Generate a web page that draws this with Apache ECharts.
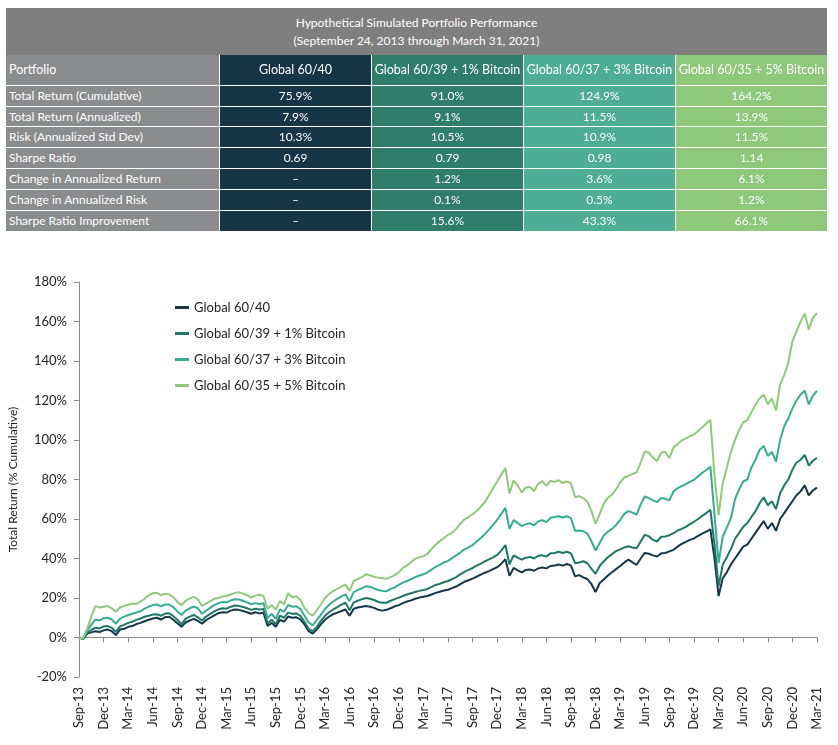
<!DOCTYPE html>
<html>
<head>
<meta charset="utf-8">
<script src="https://cdn.jsdelivr.net/npm/echarts@6/dist/echarts.min.js"></script>
<style>
  html, body { margin: 0; padding: 0; background: #fff; }
  #wrap { position: relative; width: 838px; height: 745px; overflow: hidden; font-family: Lato, "Noto Sans", sans-serif; }
  #chart { position: absolute; left: 0; top: 0; width: 838px; height: 745px; }
  .cell { position: absolute; box-sizing: border-box; color: #fff; font-size: 12px; line-height: 1; display: flex; align-items: center; white-space: nowrap; }
</style>
</head>
<body>
<div id="wrap">
  <div id="chart"></div>
  <div id="table"></div>
</div>
<script>
// ---------------- table data ----------------
const tableTitle = ['Hypothetical Simulated Portfolio Performance', '(September 24, 2013 through March 31, 2021)'];
const portfolios = ['Global 60/40', 'Global 60/39 + 1% Bitcoin', 'Global 60/37 + 3% Bitcoin', 'Global 60/35 + 5% Bitcoin'];
const metrics = ['Total Return (Cumulative)', 'Total Return (Annualized)', 'Risk (Annualized Std Dev)', 'Sharpe Ratio', 'Change in Annualized Return', 'Change in Annualized Risk', 'Sharpe Ratio Improvement'];
const colGlobal6040 = ['75.9%', '7.9%', '10.3%', '0.69', '–', '–', '–'];
const colBtc1 = ['91.0%', '9.1%', '10.5%', '0.79', '1.2%', '0.1%', '15.6%'];
const colBtc3 = ['124.9%', '11.5%', '10.9%', '0.98', '3.6%', '0.5%', '43.3%'];
const colBtc5 = ['164.2%', '13.9%', '11.5%', '1.14', '6.1%', '1.2%', '66.1%'];

// ---------------- chart data ----------------
const tickLabels = ['Sep-13','Dec-13','Mar-14','Jun-14','Sep-14','Dec-14','Mar-15','Jun-15','Sep-15','Dec-15','Mar-16','Jun-16','Sep-16','Dec-16','Mar-17','Jun-17','Sep-17','Dec-17','Mar-18','Jun-18','Sep-18','Dec-18','Mar-19','Jun-19','Sep-19','Dec-19','Mar-20','Jun-20','Sep-20','Dec-20','Mar-21'];

// months elapsed since Sep 24, 2013
const months = [0,0.5,1,1.5,2,2.5,3,3.5,4,4.5,5,5.5,6,6.5,7,7.5,8,8.5,9,9.5,10,10.5,11,11.5,12,12.5,13,13.5,14,14.5,15,15.5,16,16.5,17,17.5,18,18.5,19,19.5,20,20.5,21,21.5,22,22.5,23,23.5,24,24.5,25,25.5,26,26.5,27,27.5,28,28.5,29,29.5,30,30.5,31,31.5,32,32.5,33,33.5,34,34.5,35,35.5,36,36.5,37,37.5,38,38.5,39,39.5,40,40.5,41,41.5,42,42.5,43,43.5,44,44.5,45,45.5,46,46.5,47,47.5,48,48.5,49,49.5,50,50.5,51,51.5,52,52.5,53,53.5,54,54.5,55,55.5,56,56.5,57,57.5,58,58.5,59,59.5,60,60.5,61,61.5,62,62.5,63,63.5,64,64.5,65,65.5,66,66.5,67,67.5,68,68.5,69,69.5,70,70.5,71,71.5,72,72.5,73,73.5,74,74.5,75,75.5,76,76.5,77,77.5,78,78.5,79,79.5,80,80.5,81,81.5,82,82.5,83,83.5,84,84.5,85,85.5,86,86.5,87,87.5,88,88.5,89,89.5,90];

const g6040 = [0,-0.8,2.0,2.6,3.2,2.8,3.6,4.0,3.2,1.2,4.0,4.4,5.4,5.8,6.8,7.4,8.2,9.0,9.6,10.0,9.1,10.3,10.5,9.0,7.2,5.4,7.6,8.6,9.4,8.4,7.0,8.8,10.0,11.2,12.3,12.8,12.6,13.6,14.2,14.0,13.4,12.8,12.0,12.8,12.2,12.6,5.8,7.4,5.4,9.0,8.0,10.6,10.0,10.2,9.2,6.6,3.2,2.0,4.0,6.6,9.0,10.6,11.8,12.6,13.4,14.2,11.0,14.6,15.2,15.6,15.9,15.6,15.0,14.0,13.6,14.0,14.8,15.8,16.4,17.4,18.2,18.8,19.6,20.2,20.6,21.0,21.8,22.6,23.2,23.8,24.2,25.0,25.8,27.0,28.2,29.0,29.8,30.8,31.8,32.8,33.6,34.6,35.6,37.4,39.6,31.2,35.2,34.0,33.0,34.2,34.4,33.8,35.0,35.4,35.0,36.2,36.4,37.0,36.4,37.2,36.4,31.0,31.6,30.4,29.6,27.0,23.0,27.6,29.4,31.4,33.0,34.6,36.2,38.0,39.4,38.0,36.8,40.0,42.8,42.4,41.6,41.0,42.6,42.8,43.6,44.4,46.0,47.4,48.4,49.4,50.2,51.4,52.6,53.6,54.8,40.0,21.0,30.0,33.0,37.0,40.0,43.0,46.0,47.0,50.0,53.0,56.0,59.0,55.0,58.0,54.0,60.0,63.0,66.0,69.0,72.0,74.0,77.0,72.0,74.5,75.9];

const btc1 = [0,-0.6,2.5,3.8,4.9,4.6,5.6,5.8,4.9,2.8,5.6,6.4,7.4,8.0,8.9,9.6,10.5,11.0,11.6,11.8,11.0,12.1,12.3,10.8,9.0,6.6,9.4,10.6,11.4,10.2,8.6,10.6,12.0,13.2,14.2,14.8,14.6,15.6,16.2,16.0,15.4,14.8,14.0,14.6,14.2,14.4,7.2,9.0,6.8,11.0,10.0,12.6,12.0,12.2,11.0,8.0,4.4,3.2,5.4,8.4,11.0,12.8,14.2,15.4,16.6,17.6,13.8,17.8,18.6,19.4,20.0,19.6,19.0,18.0,17.6,17.6,18.6,19.4,20.2,21.0,21.8,22.4,23.0,23.6,24.0,24.6,25.6,26.6,27.2,28.0,28.6,29.6,30.6,32.0,33.2,34.2,35.2,36.4,37.4,38.6,39.6,40.6,41.8,44.0,46.8,37.0,41.6,40.4,39.4,40.4,40.8,40.0,41.4,41.6,41.0,42.6,42.8,43.4,42.8,43.4,42.6,37.6,38.0,38.6,37.6,34.8,32.2,36.2,38.6,40.6,42.2,43.8,44.6,45.6,46.2,45.6,45.2,48.6,52.0,51.2,49.4,48.6,51.0,51.2,51.8,52.8,54.2,55.0,56.0,57.4,58.6,60.0,61.6,63.0,64.6,47.0,26.0,36.8,40.6,44.8,50.0,53.0,56.0,58.0,61.0,64.0,68.0,71.0,67.0,69.0,65.0,73.0,77.0,80.0,85.0,88.6,90.0,92.5,87.0,89.5,91.0];

const btc3 = [0,-0.5,3.5,6.5,9.1,8.6,9.8,10.0,9.1,7.0,9.6,10.6,11.4,12.0,12.7,13.3,14.6,15.6,16.4,16.7,15.8,16.7,16.7,15.4,13.2,11.4,13.6,14.8,15.6,14.8,12.0,13.6,15.0,16.4,17.4,18.0,17.8,18.8,19.4,19.2,18.6,17.8,16.8,17.4,17.0,17.4,9.8,12.0,9.4,14.2,13.0,16.4,15.6,15.8,14.4,11.0,7.6,6.2,8.8,11.6,14.4,16.6,18.2,19.6,20.8,21.8,18.4,23.0,24.0,25.0,26.0,25.6,24.8,24.0,23.6,23.4,24.6,25.4,26.6,27.8,28.6,29.6,30.6,31.4,32.0,33.0,34.4,35.8,36.8,38.0,38.8,40.2,41.6,43.0,44.6,45.6,46.8,48.6,50.4,52.4,54.6,57.0,59.6,62.6,65.6,55.0,59.4,58.0,56.4,57.4,57.8,56.8,58.8,59.4,58.4,60.6,61.0,61.4,60.8,61.4,60.4,54.0,54.2,53.8,52.6,48.6,44.0,47.8,51.6,53.6,55.0,57.0,59.6,62.6,64.0,63.2,62.2,67.4,71.4,70.6,69.4,68.6,70.6,70.2,69.4,74.0,75.6,76.6,77.6,78.8,79.8,81.6,83.4,84.8,86.4,62.0,37.8,51.0,55.6,60.4,70.0,75.0,79.0,80.0,86.0,90.0,95.0,97.0,92.0,94.0,89.0,100.0,107.0,111.0,116.0,120.0,123.0,125.0,118.0,122.5,124.9];

const btc5 = [0,-0.5,4.5,10.5,15.9,15.2,15.6,15.9,14.8,13.0,15.2,16.0,16.6,17.2,17.0,18.2,19.6,21.4,22.4,22.6,21.5,22.1,21.8,20.4,18.0,16.4,18.6,19.8,20.6,19.4,16.0,17.2,18.4,19.6,20.0,20.8,21.0,21.8,22.6,22.9,22.2,21.4,20.2,21.2,21.6,21.0,14.6,16.4,14.2,18.4,16.8,22.4,20.4,20.9,19.0,15.0,12.4,11.0,13.8,16.7,20.0,22.0,23.6,24.6,25.8,26.8,23.6,28.6,29.6,30.6,32.0,31.4,30.8,30.2,30.0,29.8,30.6,31.6,33.0,35.2,36.4,38.2,39.8,40.6,41.2,42.4,44.8,47.0,48.8,50.4,52.0,53.0,55.0,57.6,59.8,61.0,62.4,64.2,66.2,68.6,72.0,75.6,79.0,82.6,85.8,73.0,79.6,77.0,73.4,76.0,76.2,74.2,77.8,79.2,76.8,79.4,78.8,79.6,78.2,79.0,78.0,71.0,71.6,70.6,68.6,64.0,57.6,62.6,67.8,70.8,72.4,75.0,78.6,81.0,81.8,82.8,83.6,88.6,94.2,93.6,91.0,89.4,93.6,94.0,90.8,96.4,97.8,99.8,100.8,102.0,102.8,104.6,106.4,108.4,110.2,82.0,62.0,78.0,86.0,94.0,100.0,105.0,109.0,110.0,114.0,118.0,121.0,123.0,118.0,121.0,115.0,128.0,133.0,139.0,150.0,155.0,160.0,164.0,156.0,162.0,164.2];

const seriesColors = ['#143847', '#1d7866', '#35ad92', '#90c97c'];
const columnColors = ['#163546', '#2f7d6b', '#4dae94', '#8dc87b'];

// ---------------- build table ----------------
(function buildTable() {
  const t = document.getElementById('table');
  const colX = [6, 220, 372, 524, 676, 827];
  const rowY = [55, 86, 107, 127, 148, 169, 190, 211, 231];
  function cell(x0, y0, x1, y1, bg, text, align, extra) {
    const d = document.createElement('div');
    d.className = 'cell';
    d.style.left = x0 + 'px';
    d.style.top = y0 + 'px';
    d.style.width = (x1 - x0 - 1) + 'px';
    d.style.height = (y1 - y0 - 1) + 'px';
    d.style.background = bg;
    d.style.justifyContent = align === 'left' ? 'flex-start' : 'center';
    if (align === 'left') d.style.paddingLeft = '3px';
    if (extra) Object.assign(d.style, extra);
    d.innerHTML = text;
    t.appendChild(d);
  }
  cell(6, 8, 828, 56, '#7f7f7f', tableTitle[0] + '<br>' + tableTitle[1], 'center', { textAlign: 'center', lineHeight: '18px', fontSize: '12px' });
  cell(colX[0], rowY[0], colX[1], rowY[1], '#8b8c8e', 'Portfolio', 'left', { fontSize: '12.5px' });
  portfolios.forEach((p, i) => cell(colX[i + 1], rowY[0], colX[i + 2] + (i === 3 ? 1 : 0), rowY[1], columnColors[i], p, 'center', { fontSize: '12.5px' }));
  const cols = [colGlobal6040, colBtc1, colBtc3, colBtc5];
  metrics.forEach((m, r) => {
    cell(colX[0], rowY[r + 1], colX[1], rowY[r + 2] + (r === 6 ? 1 : 0), '#8b8c8e', m, 'left');
    cols.forEach((c, i) => cell(colX[i + 1], rowY[r + 1], colX[i + 2] + (i === 3 ? 1 : 0), rowY[r + 2] + (r === 6 ? 1 : 0), columnColors[i], c[r], 'center'));
  });
})();

// ---------------- chart ----------------
const valueSets = [g6040, btc1, btc3, btc5];
const chart = echarts.init(document.getElementById('chart'), null, { renderer: 'canvas' });
const font = 'Lato, "Noto Sans", sans-serif';
chart.setOption({
  animation: false,
  backgroundColor: '#fff',
  textStyle: { fontFamily: font },
  grid: { left: 79, right: 21, top: 282, bottom: 68, containLabel: false, outerBoundsMode: 'none' },
  legend: {
    orient: 'vertical',
    left: 170,
    top: 296,
    itemWidth: 14,
    itemHeight: 3,
    itemGap: 13,
    icon: 'rect',
    textStyle: { fontSize: 13, color: '#222', fontFamily: font },
    data: portfolios
  },
  xAxis: {
    type: 'value',
    min: 0,
    max: 90,
    interval: 3,
    axisLine: { onZero: true, lineStyle: { color: '#8a8a8a', width: 1 } },
    axisTick: { show: true, length: 5, lineStyle: { color: '#8a8a8a' } },
    splitLine: { show: false },
    axisLabel: {
      rotate: 90,
      margin: 10,
      fontSize: 13,
      color: '#222',
      fontFamily: font,
      formatter: v => tickLabels[Math.round(v / 3)] || ''
    }
  },
  yAxis: {
    type: 'value',
    min: -20,
    max: 180,
    interval: 20,
    name: 'Total Return (% Cumulative)',
    nameLocation: 'middle',
    nameGap: 60,
    nameTextStyle: { fontSize: 12, color: '#222', fontFamily: font },
    axisLine: { show: true, lineStyle: { color: '#8a8a8a', width: 1 } },
    axisTick: { show: true, length: 5, lineStyle: { color: '#8a8a8a' } },
    splitLine: { show: false },
    axisLabel: { fontSize: 13, color: '#222', margin: 12, fontFamily: font, formatter: v => v + '%' }
  },
  series: portfolios.map((name, i) => ({
    name: name,
    type: 'line',
    showSymbol: false,
    symbol: 'none',
    color: seriesColors[i],
    lineStyle: { width: 2, color: seriesColors[i] },
    data: months.map((m, k) => [m, valueSets[i][k]])
  }))
});
</script>
</body>
</html>
